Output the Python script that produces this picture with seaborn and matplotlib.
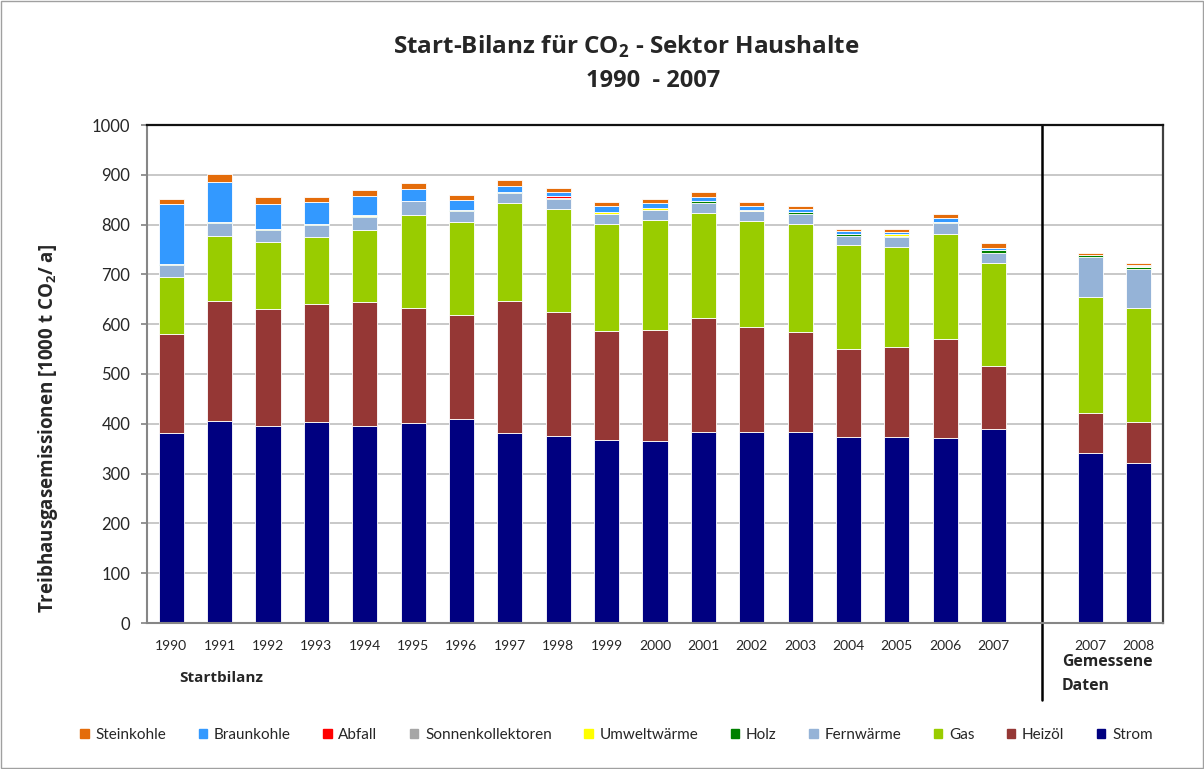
import numpy as np
import pandas as pd
import matplotlib
matplotlib.use("Agg")
import matplotlib.pyplot as plt
import seaborn as sns

# slot keys (blank slot separates Startbilanz and measured data)
keys = ["1990", "1991", "1992", "1993", "1994", "1995", "1996", "1997", "1998",
        "1999", "2000", "2001", "2002", "2003", "2004", "2005", "2006", "2007",
        "gap", "m2007", "m2008"]
tick_labels = ["1990", "1991", "1992", "1993", "1994", "1995", "1996", "1997", "1998",
               "1999", "2000", "2001", "2002", "2003", "2004", "2005", "2006", "2007",
               "", "2007", "2008"]

nan = np.nan
strom = [381, 406, 396, 404, 396, 402, 410, 381, 376, 367, 365, 384, 384, 384, 373, 373, 371, 390, nan, 341, 321]
heizoel = [199, 241, 234, 236, 249, 231, 208, 266, 248, 219, 223, 228, 210, 200, 177, 181, 199, 126, nan, 81, 83]
gas = [115, 131, 135, 136, 145, 187, 188, 196, 207, 215, 221, 211, 213, 217, 209, 202, 212, 206, nan, 233, 229]
fernwaerme = [23, 26, 24, 23, 26, 27, 22, 20, 21, 20, 20, 21, 20, 20, 18, 20, 21, 20, nan, 79, 78]
holz = [2, 2, 2, 2, 1, 1, 2, 2, 2, 1, 1, 3, 1, 5, 5, 2, 2, 6, nan, 4, 3]
umweltwaerme = [0, 0, 0, 0, 3, 0, 0, 0, 0, 3, 3, 0, 1, 0, 0, 3, 0, 1, nan, 0, 2]
sonnenkollektoren = [0, 0, 0, 0, 0, 0, 0, 0, 0, 0, 0, 0, 0, 0, 0, 0, 0, 0, nan, 0, 0]
abfall = [1, 0, 0, 0, 0, 0, 0, 0, 3, 0, 0, 0, 0, 0, 0, 0, 0, 0, nan, 0, 0]
braunkohle = [120, 79, 50, 44, 38, 24, 19, 12, 8, 12, 10, 8, 8, 6, 5, 5, 8, 5, nan, 0, 2]
steinkohle = [11, 17, 14, 11, 12, 11, 11, 12, 9, 8, 8, 10, 8, 6, 5, 5, 8, 9, nan, 5, 4]

# bottom to top
series = [
    ("Strom", strom, "#000080"),
    ("Heizöl", heizoel, "#953735"),
    ("Gas", gas, "#99CC00"),
    ("Fernwärme", fernwaerme, "#95B3D7"),
    ("Holz", holz, "#008000"),
    ("Umweltwärme", umweltwaerme, "#FFFF00"),
    ("Sonnenkollektoren", sonnenkollektoren, "#A6A6A6"),
    ("Abfall", abfall, "#FF0000"),
    ("Braunkohle", braunkohle, "#3399FF"),
    ("Steinkohle", steinkohle, "#E46C0A"),
]

sns.set_theme(style="white")
plt.rcParams["font.family"] = ["Lato", "DejaVu Sans"]
plt.rcParams["mathtext.fontset"] = "custom"
plt.rcParams["mathtext.rm"] = "Open Sans"
plt.rcParams["mathtext.bf"] = "Open Sans:bold"
BOLD = ["Open Sans", "DejaVu Sans"]

fig = plt.figure(figsize=(12.04, 7.69), dpi=100)
ax = fig.add_axes([147 / 1204, 1 - 623 / 769, (1163 - 147) / 1204, (623 - 125) / 769])

bottom = np.zeros(len(keys))
handles = []
for name, vals, col in series:
    v = np.array(vals, dtype=float)
    mask = ~np.isnan(v)
    df = pd.DataFrame({"slot": np.array(keys)[mask], "val": v[mask]})
    sns.barplot(data=df, x="slot", y="val", order=keys, color=col, width=0.52,
                bottom=bottom[mask], edgecolor="white", linewidth=0.6,
                saturation=1, ax=ax, errorbar=None)
    bottom = bottom + np.nan_to_num(v)
    handles.append(plt.Rectangle((0, 0), 1, 1, color=col, label=name))

ax.set_ylim(0, 1000)
ax.set_xlim(-0.5, len(keys) - 0.5)
ax.set_yticks(range(0, 1001, 100))
ax.set_yticklabels([str(t) for t in range(0, 1001, 100)], fontsize=12)
ax.set_xticks(range(len(keys)))
ax.set_xticklabels(tick_labels, fontsize=10)
ax.tick_params(axis="x", length=0, pad=12)
ax.tick_params(axis="y", length=4, color="#868686", left=True, pad=8)
ax.set_xlabel("")
ax.set_ylabel("")
ax.yaxis.grid(True, color="#BFBFBF", linewidth=1.2)
ax.set_axisbelow(True)
for s in ["left", "bottom"]:
    ax.spines[s].set_color("#868686")
    ax.spines[s].set_linewidth(1.5)
ax.spines["top"].set_color("#111111")
ax.spines["top"].set_linewidth(1.6)
ax.spines["right"].set_color("#404040")
ax.spines["right"].set_linewidth(1.6)

# separator between Startbilanz and measured data
ax.axvline(18, ymin=-0.155, ymax=1, color="black", linewidth=1.8, clip_on=False)

fig.text(626 / 1204, 1 - 47 / 769, "Start-Bilanz für CO$_\\mathbf{2}$ - Sektor Haushalte",
         ha="center", va="center", fontsize=17.5, fontweight="bold", family=BOLD)
fig.text(653 / 1204, 1 - 81 / 769, "1990  - 2007", ha="center", va="center",
         fontsize=17, fontweight="bold", family=BOLD)
fig.text(48 / 1204, 1 - 428 / 769, "Treibhausgasemissionen [1000 t CO$_\\mathbf{2}$/ a]",
         rotation=90, ha="center", va="center", fontsize=13.5, fontweight="bold", family=BOLD)
fig.text(179 / 1204, 1 - 678 / 769, "Startbilanz", ha="left", va="center",
         fontsize=11, fontweight="bold", family=BOLD)
fig.text(1062 / 1204, 1 - 662 / 769, "Gemessene", ha="left", va="center",
         fontsize=11.3, fontweight="bold", family=BOLD)
fig.text(1062 / 1204, 1 - 686 / 769, "Daten", ha="left", va="center",
         fontsize=11.3, fontweight="bold", family=BOLD)

fig.legend(handles=handles[::-1], loc="center", bbox_to_anchor=(0.512, 1 - 735 / 769),
           ncol=10, frameon=False, fontsize=11, handlelength=0.55, handleheight=0.55,
           handletextpad=0.45, columnspacing=2.12)

# thin frame around the whole chart
fig.patches.append(plt.Rectangle((0.001, 0.001), 0.998, 0.998, transform=fig.transFigure,
                                 fill=False, edgecolor="#A0A0A0", linewidth=1))

fig.savefig("out.png", dpi=100)
